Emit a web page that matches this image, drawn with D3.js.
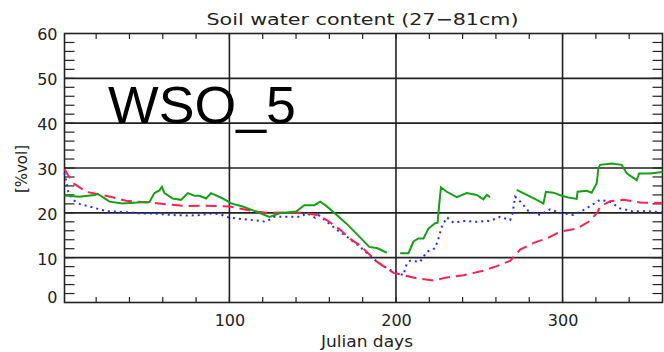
<!DOCTYPE html>
<html>
<head>
<meta charset="utf-8">
<script src="https://cdn.jsdelivr.net/npm/d3@7"></script>
<style>
  body { margin: 0; background: #fff; }
  text { font-family: "DejaVu Sans", sans-serif; fill: #222; }
</style>
</head>
<body>
<svg id="chart" width="664" height="352"></svg>
<script>
// Soil water content at 27-81 cm, station WSO_5, by Julian day
const chartTitle = "Soil water content (27\u221281cm)";
const stationLabel = "WSO_5";
const xTitle = "Julian days";
const yTitle = "[%vol]";

const xMajorTicks = [100, 200, 300];
const yMajorTicks = [0, 10, 20, 30, 40, 50, 60];

// Green (solid) series; null marks gaps in the record
const greenDays = [1, 3, 10, 19, 21, 24, 28, 36, 45, 52, 55, 58, 59.5, 61, 66, 71, 75, 79, 82, 86, 89, 96, 101, 108, 116, 124, 130, 140, 145, 151, 154.5, 158, 162, 170, 178, 184, 189, 194.5,
  198,
  202.5, 207.5, 210.5, 213.5, 216.5, 219.5, 223.5, 225, 226, 227, 230.5, 236.5, 242.5, 248.5, 252.5, 254.5, 256.5,
  264,
  272.5, 278.5, 284.5, 288.5, 290, 294.5, 299.5, 303.5, 308.5, 309, 314.5, 317.5, 320.5, 321.5, 322.5, 329.5, 335.5, 338.5, 344.5, 346, 352.5, 360];
const greenVals = [23.8, 23.8, 23.6, 24.0, 24.2, 23.5, 22.5, 22.1, 22.3, 22.4, 24.4, 25.0, 25.8, 24.4, 23.2, 22.9, 24.4, 23.8, 23.8, 23.2, 24.4, 23.2, 22.1, 21.4, 20.3, 19.1, 19.9, 20.3, 21.7, 21.7, 22.5, 21.6, 20.3, 17.7, 14.7, 12.4, 12.1, 11.1,
  null,
  11.0, 11.0, 13.6, 14.3, 14.3, 16.5, 17.7, 17.8, 22.1, 25.7, 24.7, 23.5, 24.4, 24.0, 23.0, 24.0, 23.5,
  null,
  25.1, 24.0, 22.9, 22.1, 24.7, 24.5, 23.8, 23.4, 23.1, 24.7, 24.9, 24.5, 26.6, 29.9, 30.7, 31.0, 30.7, 28.8, 27.3, 28.8, 28.8, 29.1];

// Red (dashed) series
const redDays = [1, 3, 6.3, 14, 26, 38, 52, 62, 74, 85, 100, 114, 122, 142, 152.5, 158.5, 166.5, 172.5, 178.5, 188.5, 198.5, 204.5, 212.5, 222.5, 230.5, 240.5, 252.5, 260.5, 268.5, 274.5, 282.6, 290.6, 298.6, 308.6, 315.6, 320.6, 322.6, 328.6, 336.6, 346.6, 360];
const redVals = [29.8, 28.5, 26.6, 24.7, 23.8, 22.7, 22.3, 21.9, 21.5, 21.6, 21.4, 20.4, 20.0, 20.1, 19.5, 18.4, 16.2, 14.2, 12.7, 9.1, 6.6, 6.1, 5.4, 4.9, 5.6, 6.1, 7.1, 8.1, 9.3, 11.8, 13.3, 14.3, 15.8, 16.5, 18.0, 19.9, 21.4, 22.6, 22.9, 22.3, 22.2];

// Blue (dotted) series
const blueDays = [1, 2, 3.3, 6, 10, 16, 26, 36, 46, 56, 66, 76, 82, 90, 95, 100, 108, 116, 122, 127, 134.5, 142.5, 146.5, 151.5, 153.5, 158.5, 164.5, 170.5, 172.5, 178.5, 180.5, 188.5, 196.5, 202.5, 204.5, 206.5, 208.5, 214.5, 218.5, 223.5, 225.5, 227.5, 230.5, 234.5, 240.5, 248.5, 256.5, 262.5, 268.5, 270, 271.5, 273.5, 279.5, 286.5, 292.5, 298.5, 306.5, 313.5, 322.5, 328.5, 334.5, 342.5, 350.5, 360];
const blueVals = [29.0, 27.0, 24.7, 22.9, 22.0, 21.4, 20.4, 20.2, 19.9, 19.8, 19.5, 19.4, 19.5, 19.9, 19.6, 18.9, 18.6, 18.3, 18.0, 19.1, 19.1, 19.1, 19.9, 18.9, 19.5, 18.0, 16.2, 14.7, 14.1, 12.4, 11.7, 9.1, 7.25, 6.4, 6.1, 8.7, 9.3, 9.1, 11.3, 12.1, 14.3, 16.9, 19.0, 17.8, 18.2, 18.0, 18.2, 19.1, 18.4, 19.9, 23.6, 23.0, 20.4, 19.5, 20.8, 20.0, 19.5, 20.8, 22.9, 22.5, 21.0, 20.3, 20.4, 20.1];

const svg = d3.select("#chart");
const plotL = 64.5, plotR = 662.5, plotT = 33.5, plotB = 302.5;

const x = d3.scaleLinear().domain([1, 360]).range([plotL, plotR]);
const y = d3.scaleLinear().domain([0, 60]).range([plotB, plotT]);

const ink = "#222";

// Grid lines at major ticks
const grid = svg.append("g");
grid.selectAll("line.h").data(yMajorTicks.filter(v => v > 0 && v < 60)).join("line")
  .attr("x1", plotL).attr("x2", plotR)
  .attr("y1", d => y(d)).attr("y2", d => y(d))
  .attr("stroke", ink).attr("stroke-width", 1.6);
grid.selectAll("line.v").data(xMajorTicks).join("line")
  .attr("x1", d => x(d)).attr("x2", d => x(d))
  .attr("y1", plotT).attr("y2", plotB)
  .attr("stroke", ink).attr("stroke-width", 1.6);

// Minor ticks, pointing inward on all four sides
const xMinor = d3.range(20, 360, 20);
const yMinor = d3.range(2, 60, 2);
const ticks = svg.append("g").attr("stroke", ink).attr("stroke-width", 1.2);
ticks.selectAll("line.b").data(xMinor).join("line")
  .attr("x1", d => x(d)).attr("x2", d => x(d)).attr("y1", plotB).attr("y2", plotB - 5.5);
ticks.selectAll("line.t").data(xMinor).join("line")
  .attr("x1", d => x(d)).attr("x2", d => x(d)).attr("y1", plotT).attr("y2", plotT + 5.5);
ticks.selectAll("line.l").data(yMinor).join("line")
  .attr("x1", plotL).attr("x2", plotL + 10).attr("y1", d => y(d)).attr("y2", d => y(d));
ticks.selectAll("line.r").data(yMinor).join("line")
  .attr("x1", plotR).attr("x2", plotR - 10).attr("y1", d => y(d)).attr("y2", d => y(d));

// Frame
svg.append("rect")
  .attr("x", plotL).attr("y", plotT)
  .attr("width", plotR - plotL).attr("height", plotB - plotT)
  .attr("fill", "none").attr("stroke", ink).attr("stroke-width", 1.6);

// Tick labels through D3 axes
const xAxis = svg.append("g").attr("transform", `translate(0,${plotB})`)
  .call(d3.axisBottom(x).tickValues(xMajorTicks).tickSize(0).tickPadding(12).tickFormat(d3.format("d")));
const yAxis = svg.append("g").attr("transform", `translate(${plotL},0)`)
  .call(d3.axisLeft(y).tickValues(yMajorTicks).tickSize(0).tickPadding(7).tickFormat(d3.format("d")));
[xAxis, yAxis].forEach(a => {
  a.select(".domain").remove();
  a.selectAll("text").style("font-family", "DejaVu Sans").style("font-size", "16px").style("fill", ink);
});
xAxis.selectAll("text").attr("dy", "0.71em");
yAxis.selectAll("text").attr("dy", "0.4em")
  .filter(d => d === 0).attr("dy", "0.02em");

// Series
const lineGen = d3.line()
  .defined(d => d[1] !== null)
  .x(d => x(d[0])).y(d => y(d[1]));

const zip = (a, b) => a.map((d, i) => [d, b[i]]);

svg.append("path").datum(zip(blueDays, blueVals))
  .attr("d", lineGen).attr("fill", "none")
  .attr("stroke", "#1f2bff").attr("stroke-width", 2)
  .attr("stroke-dasharray", "2,4");

svg.append("path").datum(zip(redDays, redVals))
  .attr("d", lineGen).attr("fill", "none")
  .attr("stroke", "#ff1f55").attr("stroke-width", 2)
  .attr("stroke-dasharray", "11,6");

svg.append("path").datum(zip(greenDays, greenVals))
  .attr("d", lineGen).attr("fill", "none")
  .attr("stroke", "#16a016").attr("stroke-width", 2);

// Titles
svg.append("text")
  .attr("x", 362.5).attr("y", 25)
  .attr("text-anchor", "middle")
  .attr("textLength", 312).attr("lengthAdjust", "spacingAndGlyphs")
  .style("font-size", "16px")
  .text(chartTitle);

svg.append("text")
  .attr("x", 367).attr("y", 347)
  .attr("text-anchor", "middle")
  .attr("textLength", 92).attr("lengthAdjust", "spacingAndGlyphs")
  .style("font-size", "16px")
  .text(xTitle);

svg.append("text")
  .attr("transform", "translate(27,169) rotate(-90)")
  .attr("text-anchor", "middle")
  .attr("textLength", 48).attr("lengthAdjust", "spacingAndGlyphs")
  .style("font-size", "16px")
  .text(yTitle);

svg.append("text")
  .attr("x", 108).attr("y", 123)
  .attr("textLength", 188).attr("lengthAdjust", "spacingAndGlyphs")
  .style("font-family", "Liberation Sans, Arial, sans-serif")
  .style("font-size", "52px")
  .style("fill", "#000")
  .text(stationLabel);
</script>
</body>
</html>
